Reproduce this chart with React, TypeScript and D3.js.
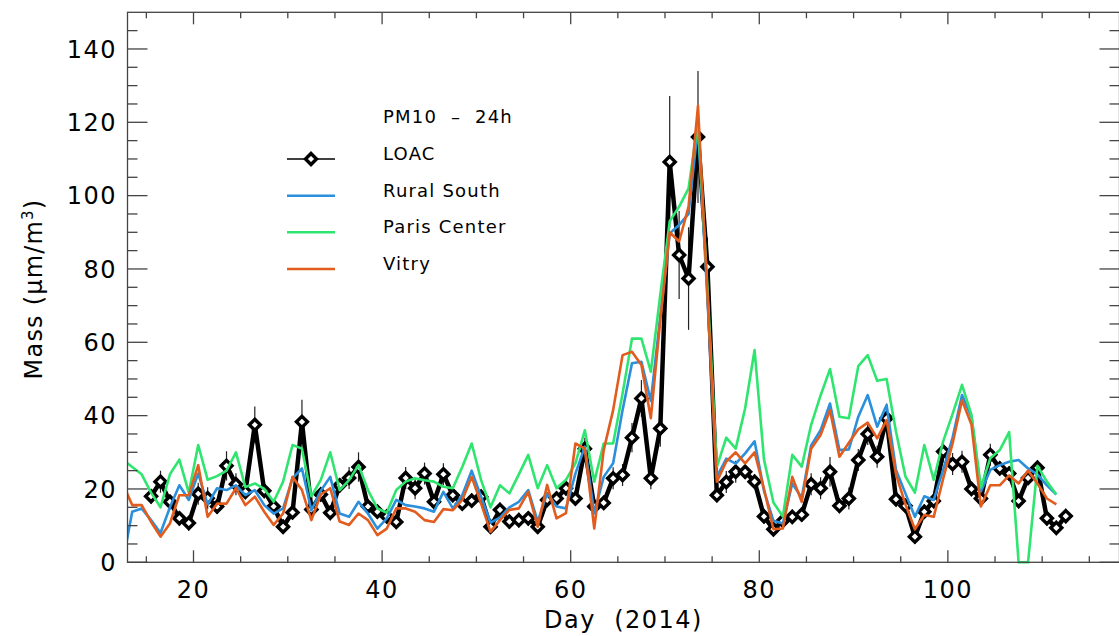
import React from "react";
import * as d3 from "d3";

// Day of year (2014) of the first value in each array; points are daily means plotted at day + 0.5
const FIRST_DAY = 12;

const parisCenter = [
  28, 26, 24, 19, 15, 24, 28, 19, 32, 22.5,
  23.5, 25, 30, 20.5, 21.5, 20, 16.5, 22, 32, 31,
  18, 22.5, 30, 19.7, 22.4, 26.5, 19.7, 14.7, 13.5, 19.7,
  22, 22.9, 22.4, 22, 20.6, 20.2, 26, 32.4, 22.4, 15,
  21, 18.8, 24, 29.3, 20.2, 26.5, 20.2, 22.5, 27, 36,
  22, 32.4, 32.4, 46, 61, 61, 52, 73, 93, 97,
  102, 120, 75, 26, 34, 31, 42, 57.9, 28, 16.3,
  12.5, 29.3, 26.1, 37.5, 45.5, 52.7, 39.7, 39.3, 53.5, 56.5,
  49.5, 50, 35.6, 23.4, 19, 32, 22.5, 33, 40.5, 48.4,
  40.2, 20.4, 28.4, 30.6, 35.5, 0, 0, 26.3, 22, 18.5,
];

const ruralSouth = [
  0, 13.8, 14.7, 11.5, 8, 15, 21, 17, 24.2, 15.8,
  20.2, 19.7, 21, 18.3, 19.7, 15.6, 13.3, 14.7, 22.9, 25.6,
  14.2, 19.5, 23.3, 13.3, 12.4, 16.5, 13.3, 9.2, 12, 17,
  15.6, 15.2, 14.7, 13.8, 19.2, 14.7, 18.3, 25, 17.9, 10.8,
  12.2, 15, 16.5, 19.7, 11.1, 18.8, 15.2, 14.7, 24.2, 31.5,
  13.4, 23.3, 27, 41.5, 54.3, 54.7, 44, 67, 89.7, 92,
  95, 118.8, 72, 23.3, 28.3, 26.9, 29.7, 33, 19.5, 11.3,
  10.6, 21.5, 17.6, 31.9, 36, 43.3, 30.6, 30.8, 39.7, 45.6,
  37, 42.9, 25.2, 18.8, 12.4, 18, 17, 25.2, 34, 45.6,
  39.7, 19.3, 25.2, 26.5, 27.4, 27.9, 25.6, 24, 21, 18.5,
];

const vitry = [
  21.5, 15.6, 15.6, 11, 7, 10.6, 18.3, 18.3, 26.5, 12.4,
  16, 16, 20.2, 15.6, 17.9, 13.8, 10.2, 13.3, 23.3, 19.7,
  11.5, 18.5, 20.2, 11.1, 10.2, 13.3, 11.5, 7.4, 9.2, 14.7,
  14.7, 13.8, 11.5, 11, 14.5, 14.2, 17, 23.3, 16, 8.3,
  11.5, 14.3, 14.7, 19.2, 9.7, 21.1, 12, 13.4, 32.4, 31,
  9.2, 30.6, 41.5, 56.5, 57.4, 53.8, 39.3, 66, 90, 87.5,
  97, 124.5, 73, 22, 27.5, 30, 27, 30, 20, 9,
  9.2, 23.3, 16.5, 31, 34.7, 41.5, 28.8, 32.6, 36.3, 38.1,
  33.8, 38.8, 24, 15.8, 9, 12.9, 12.4, 22.8, 32.4, 44.2,
  37.6, 15.2, 21, 21, 23.7, 21.5, 25, 21.5, 17.4, 15.8,
];

const loac: (number | null)[] = [
  null, null, null, 18, 22, 16.5, 12, 10.7, 18.7, 17.5,
  15.2, 26.3, 21.3, 19.2, 37.5, 19.5, 15.2, 9.7, 13.6, 38.3,
  14.4, 18.5, 13.5, 21, 23, 26, 15.2, 13.8, 12.5, 11,
  23, 20.2, 24.2, 16.5, 24, 18.3, 16, 16.8, 17.9, 9.7,
  14.3, 11.1, 11.5, 12, 9.7, 17, 17.4, 20.2, 17.4, 31,
  15.2, 16.2, 22.9, 23.8, 34, 44.7, 22.9, 36.5, 109.2, 83.8,
  77.4, 116, 80.6, 18.3, 21.9, 24.7, 24.7, 22, 12.5, 9,
  11.3, 12.4, 13, 21.3, 20.2, 24.7, 15.4, 17.4, 27.9, 35,
  28.8, 39.3, 17.2, 15.4, 7, 13.8, 16.7, 30.2, 26.8, 27.4,
  20, 17.4, 29.3, 25.6, 24.2, 16.7, 23, 25.8, 12, 9.4,
  12.6,
];

const loacErr: (number | null)[] = [
  null, null, null, 2, 3, 2, 2, 2, 3, 3,
  2, 4, 3, 2, 5, 2, 2, 2, 2, 6,
  2, 2, 2, 2, 3, 4, 2, 2, 2, 2,
  3, 3, 3, 2, 3, 2, 2, 2, 2, 2,
  2, 2, 2, 2, 2, 2, 2, 2, 2, 3,
  2, 2, 3, 3, 4, 5, 3, 5, 18, 12,
  14, 18, 8, 2, 3, 3, 2, 2, 2, 2,
  2, 2, 2, 3, 3, 4, 2, 3, 3, 3,
  3, 4, 2, 2, 2, 2, 2, 3, 3, 3,
  2, 2, 3, 2, 2, 2, 2, 2, 2, 2,
  2,
];

const xMajorTicks = [20, 40, 60, 80, 100];
const yMajorTicks = [0, 20, 40, 60, 80, 100, 120, 140];

const legendTitle = "PM10 – 24h";
const seriesNames = ["LOAC", "Rural South", "Paris Center", "Vitry"];
const seriesColors = ["#000000", "#2b8fdc", "#2fe570", "#e25c1e"];

const W = 1119;
const H = 636;
const LEFT = 127.5;
const RIGHT = 1119.5;
const TOP = 12.3;
const BOTTOM = 562.3;

export default function App() {
  const x = d3.scaleLinear().domain([13, 118.2]).range([LEFT, RIGHT]);
  const y = d3.scaleLinear().domain([0, 150]).range([BOTTOM, TOP]);

  const dayX = (i: number) => x(FIRST_DAY + i + 0.5);

  const line = d3
    .line<number | null>()
    .defined((d) => d !== null)
    .x((_, i) => dayX(i))
    .y((d) => y(d as number));

  const xMinor = d3.range(15, 118, 5).filter((v) => v % 20 !== 0);
  const yMinor = d3.range(5, 150, 5).filter((v) => v % 20 !== 0);

  const axisColor = "#444";
  const font = "'DejaVu Sans', Verdana, sans-serif";

  const diamond = "M0,-5.5L5.5,0L0,5.5L-5.5,0Z";

  const legendX1 = 287;
  const legendX2 = 335;
  const legendTextX = 383;
  const legendBase = [160, 196.7, 233.3, 270];

  return (
    <svg
      width={W}
      height={H}
      style={{ position: "absolute", left: 0, top: 0, background: "#fff" }}
      fontFamily={font}
    >
      <defs>
        <clipPath id="plotClip">
          <rect x={LEFT} y={TOP} width={RIGHT - LEFT} height={BOTTOM - TOP + 2} />
        </clipPath>
      </defs>

      {/* data */}
      <g clipPath="url(#plotClip)">
        {loac.map((v, i) =>
          v === null || loacErr[i] === null ? null : (
            <line
              key={"e" + i}
              x1={dayX(i)}
              x2={dayX(i)}
              y1={y(v + (loacErr[i] as number))}
              y2={y(v - (loacErr[i] as number))}
              stroke="#222"
              strokeWidth={1.2}
            />
          )
        )}
        <path d={line(loac) || ""} fill="none" stroke="#000" strokeWidth={4.5} strokeLinejoin="round" />
        {loac.map((v, i) =>
          v === null ? null : (
            <path
              key={"d" + i}
              d={diamond}
              transform={`translate(${dayX(i)},${y(v)})`}
              fill="#fff"
              stroke="#000"
              strokeWidth={3.4}
            />
          )
        )}
        <path d={line(ruralSouth) || ""} fill="none" stroke={seriesColors[1]} strokeWidth={2.6} strokeLinejoin="round" />
        <path d={line(parisCenter) || ""} fill="none" stroke={seriesColors[2]} strokeWidth={2.6} strokeLinejoin="round" />
        <path d={line(vitry) || ""} fill="none" stroke={seriesColors[3]} strokeWidth={2.6} strokeLinejoin="round" />
      </g>

      {/* frame */}
      <rect x={LEFT} y={TOP} width={RIGHT - LEFT} height={BOTTOM - TOP} fill="none" stroke={axisColor} strokeWidth={1.3} />

      {xMajorTicks.map((t) => (
        <g key={"xm" + t}>
          <line x1={x(t)} x2={x(t)} y1={BOTTOM} y2={BOTTOM - 12} stroke={axisColor} strokeWidth={1.3} />
          <line x1={x(t)} x2={x(t)} y1={TOP} y2={TOP + 12} stroke={axisColor} strokeWidth={1.3} />
          <text x={x(t)} y={598} textAnchor="middle" fontSize={24} letterSpacing={1.5} fill="#000">
            {t}
          </text>
        </g>
      ))}
      {xMinor.map((t) => (
        <g key={"xn" + t}>
          <line x1={x(t)} x2={x(t)} y1={BOTTOM} y2={BOTTOM - 6} stroke={axisColor} strokeWidth={1.3} />
          <line x1={x(t)} x2={x(t)} y1={TOP} y2={TOP + 6} stroke={axisColor} strokeWidth={1.3} />
        </g>
      ))}

      {yMajorTicks.map((t) => (
        <g key={"ym" + t}>
          <line x1={LEFT} x2={LEFT + 20} y1={y(t)} y2={y(t)} stroke={axisColor} strokeWidth={1.3} />
          <line x1={RIGHT} x2={RIGHT - 20} y1={y(t)} y2={y(t)} stroke={axisColor} strokeWidth={1.3} />
          <text x={117} y={y(t) + 8.7} textAnchor="end" fontSize={24} letterSpacing={1.5} fill="#000">
            {t}
          </text>
        </g>
      ))}
      {yMinor.map((t) => (
        <g key={"yn" + t}>
          <line x1={LEFT} x2={LEFT + 10} y1={y(t)} y2={y(t)} stroke={axisColor} strokeWidth={1.3} />
          <line x1={RIGHT} x2={RIGHT - 10} y1={y(t)} y2={y(t)} stroke={axisColor} strokeWidth={1.3} />
        </g>
      ))}

      <text x={(LEFT + RIGHT) / 2} y={628} textAnchor="middle" fontSize={24} letterSpacing={1.5} fill="#000" style={{ whiteSpace: "pre" }}>
        {"Day  (2014)"}
      </text>
      <text
        transform="translate(42,289) rotate(-90)"
        textAnchor="middle"
        fontSize={24}
        letterSpacing={1.2}
        fill="#000"
      >
        Mass (μm/m<tspan dy={-9} fontSize={15}>3</tspan>
        <tspan dy={9}>)</tspan>
      </text>

      <text x={legendTextX} y={123.3} fontSize={18} letterSpacing={1.2} fill="#000" style={{ whiteSpace: "pre" }}>
        {legendTitle.replace(" – ", "  –  ")}
      </text>
      {seriesNames.map((name, k) => (
        <g key={name}>
          <line
            x1={legendX1}
            x2={legendX2}
            y1={legendBase[k] - 1}
            y2={legendBase[k] - 1}
            stroke={seriesColors[k]}
            strokeWidth={k === 0 ? 1.3 : 2.6}
          />
          {k === 0 && (
            <path
              d={diamond}
              transform={`translate(${(legendX1 + legendX2) / 2},${legendBase[k] - 1})`}
              fill="#fff"
              stroke="#000"
              strokeWidth={3.4}
            />
          )}
          <text x={legendTextX} y={legendBase[k]} fontSize={18} letterSpacing={1.2} fill="#000">
            {name}
          </text>
        </g>
      ))}
    </svg>
  );
}
